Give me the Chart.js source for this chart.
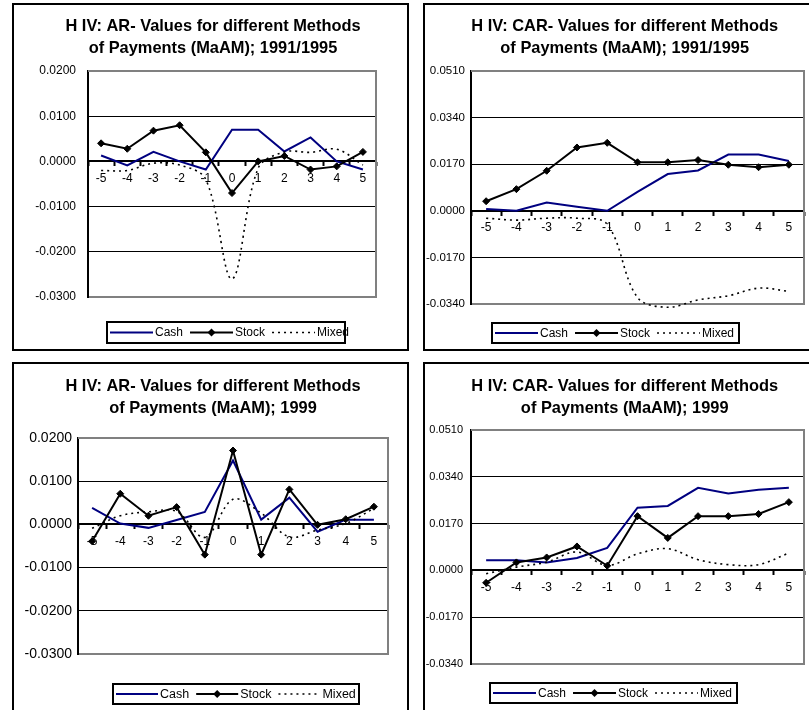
<!DOCTYPE html>
<html>
<head>
<meta charset="utf-8">
<title>H IV: AR and CAR values by method of payment</title>
<script src="https://cdn.jsdelivr.net/npm/chart.js@4.4.1/dist/chart.umd.min.js"></script>
<style>
  html, body { margin: 0; padding: 0; background: #fff; overflow: hidden; width: 809px; height: 710px; }
  .panel { position: absolute; border: 2px solid #000; box-sizing: border-box; background: #fff; }
  .panel canvas { display: block; }
</style>
</head>
<body>
<div class="panel" style="left:12px;top:3px;width:397px;height:348px"><canvas id="arEarly" width="393" height="344"></canvas></div>
<div class="panel" style="left:423px;top:3px;width:397px;height:348px"><canvas id="carEarly" width="393" height="344"></canvas></div>
<div class="panel" style="left:12px;top:362px;width:397px;height:350px"><canvas id="arLate" width="393" height="346"></canvas></div>
<div class="panel" style="left:423px;top:362px;width:397px;height:350px"><canvas id="carLate" width="393" height="346"></canvas></div>

<script>
const FONT = '"Liberation Sans", Arial, Helvetica, sans-serif';

// Event window (days relative to the announcement)
const eventDays = ['-5', '-4', '-3', '-2', '-1', '0', '1', '2', '3', '4', '5'];
const seriesNames = ['Cash', 'Stock', 'Mixed'];

// Value-axis ticks
const arTickValues = [-0.03, -0.02, -0.01, 0, 0.01, 0.02];
const carTickValues = [-0.034, -0.017, 0, 0.017, 0.034, 0.051];

// Abnormal returns, 1991/1995
const cashAR9195  = [0.0013, -0.0009, 0.0021, 0.0000, -0.0018, 0.0070, 0.0070, 0.0022, 0.0053, 0.0000, -0.0018];
const stockAR9195 = [0.0040, 0.0028, 0.0068, 0.0080, 0.0020, -0.0070, 0.0000, 0.0012, -0.0018, -0.0011, 0.0021];
const mixedAR9195 = [-0.0020, -0.0020, -0.0004, -0.0008, -0.0040, -0.0260, -0.0015, 0.0021, 0.0020, 0.0027, -0.0008];

// Cumulative abnormal returns, 1991/1995
const cashCAR9195  = [0.0007, 0.0000, 0.0030, 0.0015, 0.0000, 0.0069, 0.0134, 0.0147, 0.0205, 0.0205, 0.0182];
const stockCAR9195 = [0.0035, 0.0079, 0.0146, 0.0231, 0.0248, 0.0177, 0.0177, 0.0185, 0.0168, 0.0159, 0.0168];
const mixedCAR9195 = [-0.0027, -0.0034, -0.0027, -0.0027, -0.0049, -0.0316, -0.0352, -0.0325, -0.0310, -0.0282, -0.0294];

// Abnormal returns, 1999
const cashAR99  = [0.0038, 0.0002, -0.0008, 0.0010, 0.0029, 0.0148, 0.0011, 0.0062, -0.0017, 0.0011, 0.0011];
const stockAR99 = [-0.0039, 0.0071, 0.0020, 0.0040, -0.0070, 0.0171, -0.0070, 0.0081, -0.0001, 0.0012, 0.0041];
const mixedAR99 = [-0.0009, 0.0020, 0.0029, 0.0030, -0.0030, 0.0058, 0.0026, -0.0029, -0.0013, 0.0002, 0.0037];

// Cumulative abnormal returns, 1999
const cashCAR99  = [0.0037, 0.0037, 0.0029, 0.0045, 0.0082, 0.0228, 0.0234, 0.0300, 0.0279, 0.0293, 0.0300];
const stockCAR99 = [-0.0045, 0.0029, 0.0047, 0.0087, 0.0017, 0.0197, 0.0118, 0.0197, 0.0197, 0.0205, 0.0248];
const mixedCAR99 = [-0.0012, 0.0012, 0.0030, 0.0067, 0.0018, 0.0060, 0.0079, 0.0039, 0.0021, 0.0021, 0.0063];

function diamond(ctx, x, y, r) {
  ctx.beginPath();
  ctx.moveTo(x, y - r);
  ctx.lineTo(x + r, y);
  ctx.lineTo(x, y + r);
  ctx.lineTo(x - r, y);
  ctx.closePath();
  ctx.fill();
}

function buildPanel(canvasId, titleLines, values, tickValues, g) {
  const canvas = document.getElementById(canvasId);
  const W = canvas.width, H = canvas.height;

  const titlePlugin = {
    id: 'panelTitle',
    afterDraw(chart) {
      const ctx = chart.ctx;
      ctx.save();
      ctx.font = 'bold 16.4px ' + FONT;
      ctx.fillStyle = '#000';
      ctx.textAlign = 'center';
      ctx.textBaseline = 'middle';
      titleLines.forEach((t, i) => ctx.fillText(t, g.titleX, g.titleY + i * 21.6));
      ctx.restore();
    }
  };

  const framePlugin = {
    id: 'plotFrame',
    beforeDatasetsDraw(chart) {
      const { left, top, right, bottom } = chart.chartArea;
      const ctx = chart.ctx;
      ctx.save();
      ctx.strokeStyle = '#808080';
      ctx.lineWidth = 2;
      ctx.beginPath();
      ctx.moveTo(left, top);
      ctx.lineTo(right, top);
      ctx.lineTo(right, bottom);
      ctx.lineTo(left + 1, bottom);
      ctx.stroke();
      ctx.restore();
    }
  };

  const legendPlugin = {
    id: 'boxedLegend',
    afterDraw(chart) {
      const ctx = chart.ctx;
      const b = g.legend;
      ctx.save();
      ctx.fillStyle = '#fff';
      ctx.fillRect(b.x, b.y, b.w, b.h);
      ctx.strokeStyle = '#000';
      ctx.lineWidth = 2;
      ctx.strokeRect(b.x + 1, b.y + 1, b.w - 2, b.h - 2);
      ctx.font = b.font + 'px ' + FONT;
      ctx.textBaseline = 'middle';
      ctx.textAlign = 'left';
      const cy = b.y + b.h / 2;
      let x = b.x + 4;
      chart.data.datasets.forEach(ds => {
        ctx.strokeStyle = ds.borderColor;
        ctx.lineWidth = ds.borderWidth;
        ctx.setLineDash(ds.borderDash || []);
        ctx.beginPath();
        ctx.moveTo(x, cy);
        ctx.lineTo(x + b.sample, cy);
        ctx.stroke();
        ctx.setLineDash([]);
        if (ds.pointRadius > 0) {
          ctx.fillStyle = ds.pointBackgroundColor;
          diamond(ctx, x + b.sample / 2, cy, ds.pointRadius + 0.5);
        }
        x += b.sample + 2;
        ctx.fillStyle = '#000';
        ctx.fillText(ds.label, x, cy + 0.5);
        x += ctx.measureText(ds.label).width + 7;
      });
      ctx.restore();
    }
  };

  return new Chart(canvas, {
    type: 'line',
    data: {
      labels: eventDays,
      datasets: [
        {
          label: seriesNames[0], data: values[0], order: 2,
          borderColor: '#000080', borderWidth: 2, pointRadius: 0,
          tension: 0, clip: false, fill: false
        },
        {
          label: seriesNames[1], data: values[1], order: 1,
          borderColor: '#000', borderWidth: 2,
          pointStyle: 'rectRot', pointRadius: 3.5, pointBorderWidth: 1,
          pointBackgroundColor: '#000', pointBorderColor: '#000',
          tension: 0, clip: false, fill: false
        },
        {
          label: seriesNames[2], data: values[2], order: 0,
          borderColor: '#000', borderWidth: 1.6, borderDash: [2, 4],
          pointRadius: 0, tension: 0.35, clip: false, fill: false
        }
      ]
    },
    options: {
      responsive: false,
      maintainAspectRatio: false,
      devicePixelRatio: 1,
      animation: false,
      events: [],
      layout: {
        padding: {
          left: 0,
          right: W - g.area.right,
          top: g.area.top,
          bottom: H - g.area.bottom
        }
      },
      plugins: {
        legend: { display: false },
        title: { display: false },
        tooltip: { enabled: false }
      },
      scales: {
        x: {
          type: 'category',
          position: { y: 0 },
          offset: true,
          grid: {
            offset: true, drawOnChartArea: false, drawTicks: true,
            tickLength: 4, tickWidth: 2, tickColor: '#000'
          },
          border: { display: true, color: '#000', width: 2 },
          ticks: {
            font: { family: FONT, size: 12 }, color: '#000',
            padding: 6, maxRotation: 0, autoSkip: false
          }
        },
        y: {
          min: tickValues[0],
          max: tickValues[tickValues.length - 1],
          afterBuildTicks: s => { s.ticks = tickValues.map(v => ({ value: v })); },
          afterFit: s => { s.width = g.area.left; },
          grid: { color: '#000', lineWidth: 1, drawTicks: false },
          border: { display: true, color: '#000', width: 2 },
          ticks: {
            font: { family: FONT, size: g.yFont }, color: '#000', padding: g.yPad,
            callback: v => v.toFixed(4)
          }
        }
      }
    },
    plugins: [framePlugin, titlePlugin, legendPlugin]
  });
}

buildPanel('arEarly',
  ['H IV: AR- Values for different Methods', 'of Payments (MaAM); 1991/1995'],
  [cashAR9195, stockAR9195, mixedAR9195], arTickValues,
  { area: { left: 74, right: 362, top: 66, bottom: 292 }, yFont: 12, yPad: 12,
    titleX: 199, titleY: 21.7, legend: { x: 92, y: 316, w: 240, h: 23, sample: 43, font: 12 } });

buildPanel('carEarly',
  ['H IV: CAR- Values for different Methods', 'of Payments (MaAM); 1991/1995'],
  [cashCAR9195, stockCAR9195, mixedCAR9195], carTickValues,
  { area: { left: 46, right: 379, top: 66, bottom: 299 }, yFont: 11.5, yPad: 6,
    titleX: 199.7, titleY: 21.7, legend: { x: 66, y: 317, w: 249, h: 22, sample: 43, font: 12 } });

buildPanel('arLate',
  ['H IV: AR- Values for different Methods', 'of Payments (MaAM); 1999'],
  [cashAR99, stockAR99, mixedAR99], arTickValues,
  { area: { left: 64, right: 374, top: 74, bottom: 290 }, yFont: 14, yPad: 6,
    titleX: 199, titleY: 22.7, legend: { x: 98, y: 319, w: 248, h: 22, sample: 42, font: 12.5 } });

buildPanel('carLate',
  ['H IV: CAR- Values for different Methods', 'of Payments (MaAM); 1999'],
  [cashCAR99, stockCAR99, mixedCAR99], carTickValues,
  { area: { left: 46, right: 379, top: 66, bottom: 300 }, yFont: 11, yPad: 8,
    titleX: 199.7, titleY: 22.7, legend: { x: 64, y: 318, w: 249, h: 22, sample: 43, font: 12 } });
</script>
</body>
</html>
